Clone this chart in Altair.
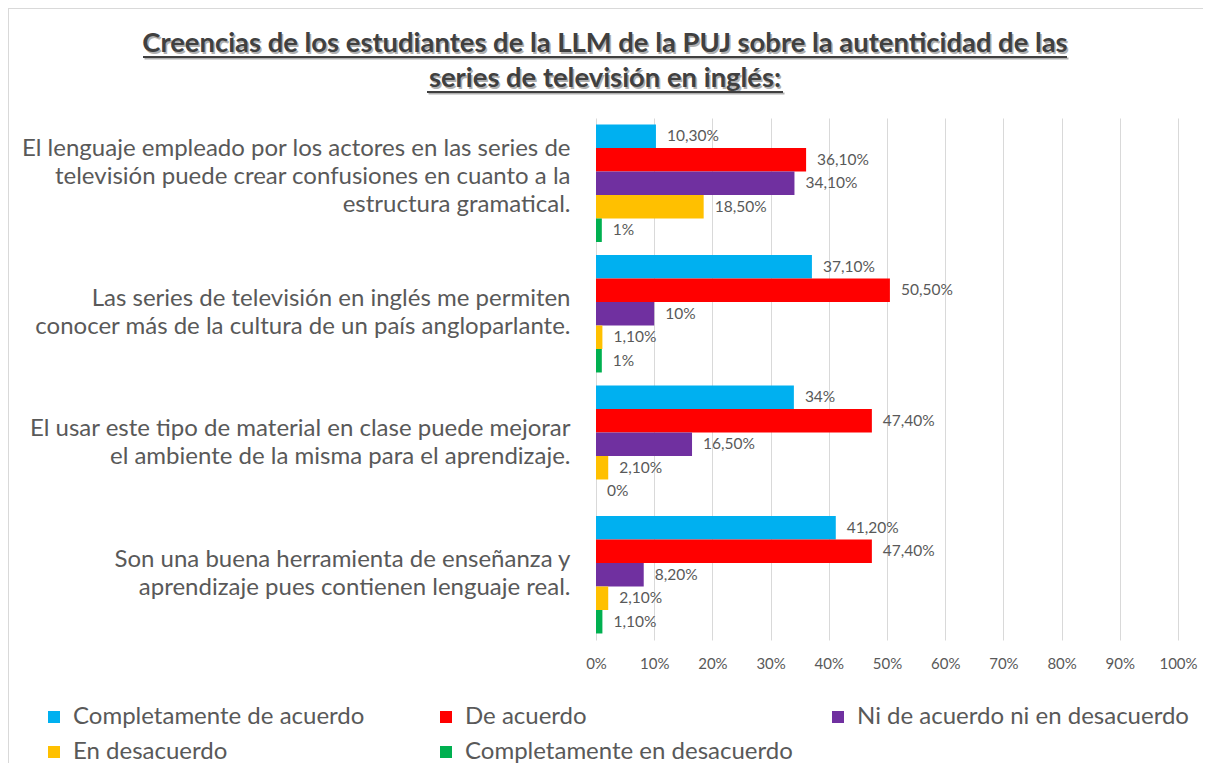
import altair as alt
import pandas as pd

categories = [
    "El lenguaje empleado por los actores en las series de|televisión puede crear confusiones en cuanto a la|estructura gramatical.",
    "Las series de televisión en inglés me permiten|conocer más de la cultura de un país angloparlante.",
    "El usar este tipo de material en clase puede mejorar|el ambiente de la misma para el aprendizaje.",
    "Son una buena herramienta de enseñanza y|aprendizaje pues contienen lenguaje real.",
]
series = [
    "Completamente de acuerdo",
    "De acuerdo",
    "Ni de acuerdo ni en desacuerdo",
    "En desacuerdo",
    "Completamente en desacuerdo",
]
colors = ["#00B0F0", "#FF0000", "#7030A0", "#FFC000", "#00B050"]

completamente_de_acuerdo = [10.3, 37.1, 34.0, 41.2]
de_acuerdo = [36.1, 50.5, 47.4, 47.4]
ni_de_acuerdo_ni_en_desacuerdo = [34.1, 10.0, 16.5, 8.2]
en_desacuerdo = [18.5, 1.1, 2.1, 2.1]
completamente_en_desacuerdo = [1.0, 1.0, 0.0, 1.1]
x_ticks = [0, 10, 20, 30, 40, 50, 60, 70, 80, 90, 100]

title_line1 = "Creencias de los estudiantes de la LLM de la PUJ sobre la autenticidad  de las"
title_line2 = "series de televisión  en inglés:"


def fmt(v):
    if v == int(v):
        return f"{int(v)}%"
    return f"{v:.2f}".replace(".", ",") + "%"


all_series = [
    completamente_de_acuerdo,
    de_acuerdo,
    ni_de_acuerdo_ni_en_desacuerdo,
    en_desacuerdo,
    completamente_en_desacuerdo,
]
rows = []
for s, vals in zip(series, all_series):
    for c, v in zip(categories, vals):
        rows.append({"cat": c, "series": s, "value": v, "label": fmt(v)})
df = pd.DataFrame(rows)

# legend fills column-major in 3 columns: reorder so rows read like the reference
legend_order = [series[0], series[3], series[1], series[4], series[2]]
legend_colors = [colors[0], colors[3], colors[1], colors[4], colors[2]]

FONT = "Lato"
TXT = "#404040"
LBL = "#595959"

y_enc = alt.Y(
    "cat:N",
    sort=categories,
    scale=alt.Scale(paddingInner=0.1, paddingOuter=0.05),
    axis=alt.Axis(
        title=None,
        labelExpr="split(datum.label, '|')",
        labelFontSize=24,
        labelColor=LBL,
        labelLineHeight=28,
        ticks=False,
        domain=False,
        labelPadding=26,
        labelLimit=800,
        labelFont=FONT,
        labelOffset={
            "condition": {"test": "indexof(datum.label, 'estructura') >= 0", "value": -34},
            "value": -15,
        },
    ),
)
yoff = alt.YOffset("series:N", sort=series)
x_enc = alt.X(
    "value:Q",
    scale=alt.Scale(domain=[0, 100]),
    axis=alt.Axis(
        values=x_ticks,
        labelExpr="datum.value + '%'",
        title=None,
        grid=True,
        gridColor="#D9D9D9",
        ticks=False,
        domain=False,
        labelFontSize=15,
        labelColor=LBL,
        labelPadding=16,
        labelFont=FONT,
        labelFlush=False,
    ),
)

base = alt.Chart(df)
bars = base.mark_bar().encode(
    y=y_enc,
    yOffset=yoff,
    x=x_enc,
    color=alt.Color(
        "series:N",
        sort=legend_order,
        scale=alt.Scale(domain=legend_order, range=legend_colors),
        legend=alt.Legend(
            title=None,
            orient="none",
            legendX=-554,
            legendY=587,
            columns=3,
            symbolType="square",
            symbolSize=144,
            symbolStrokeWidth=0,
            labelFontSize=24,
            labelColor=LBL,
            labelFont=FONT,
            labelLimit=600,
            gridAlign="all",
            columnPadding=29,
            rowPadding=11,
            labelOffset=7,
        ),
    ),
)
labels = base.mark_text(
    align="left", baseline="middle", dx=11, fontSize=15.5, color=LBL, font=FONT
).encode(y=y_enc, yOffset=yoff, x=x_enc, text="label:N")

one = pd.DataFrame({"k": [0]})


def title_text(txt, y, d, color):
    return alt.Chart(one).mark_text(
        align="center", baseline="alphabetic", fontSize=27.4, fontWeight="bold",
        font=FONT, color=color,
    ).encode(x=alt.value(9 + d), y=alt.value(y + d), text=alt.value(txt))


def hline(x1, x2, y, color, w=2):
    return alt.Chart(one).mark_rule(color=color, strokeWidth=w).encode(
        x=alt.value(x1), x2=alt.value(x2), y=alt.value(y)
    )


def vline(x, y1, y2, color, w=1):
    return alt.Chart(one).mark_rule(color=color, strokeWidth=w).encode(
        x=alt.value(x), y=alt.value(y1), y2=alt.value(y2)
    )


shadow = "#B0B0B0"
border = "#D9D9D9"
layers = [
    hline(-588, 620, -109.5, border, 1),
    vline(-587.5, -110, 650, border, 1),
    hline(-451.5, 472.5, -59.5, shadow),
    hline(-167.5, 188.5, -24.5, shadow),
    title_text(title_line1, -66, 1.5, shadow),
    title_text(title_line2, -31, 1.5, shadow),
    hline(-453, 471, -61, TXT),
    hline(-169, 187, -26, TXT),
    title_text(title_line1, -66, 0, TXT),
    title_text(title_line2, -31, 0, TXT),
]

chart = (
    alt.layer(bars, labels, *layers)
    .properties(
        width=582,
        height=522,
        autosize=alt.AutoSizeParams(type="none"),
        padding={"left": 588, "top": 110, "right": 25, "bottom": 123},
        background="white",
    )
    .configure_view(stroke=None)
)

chart.save("out.html", embed_options={"renderer": "svg", "actions": False})
